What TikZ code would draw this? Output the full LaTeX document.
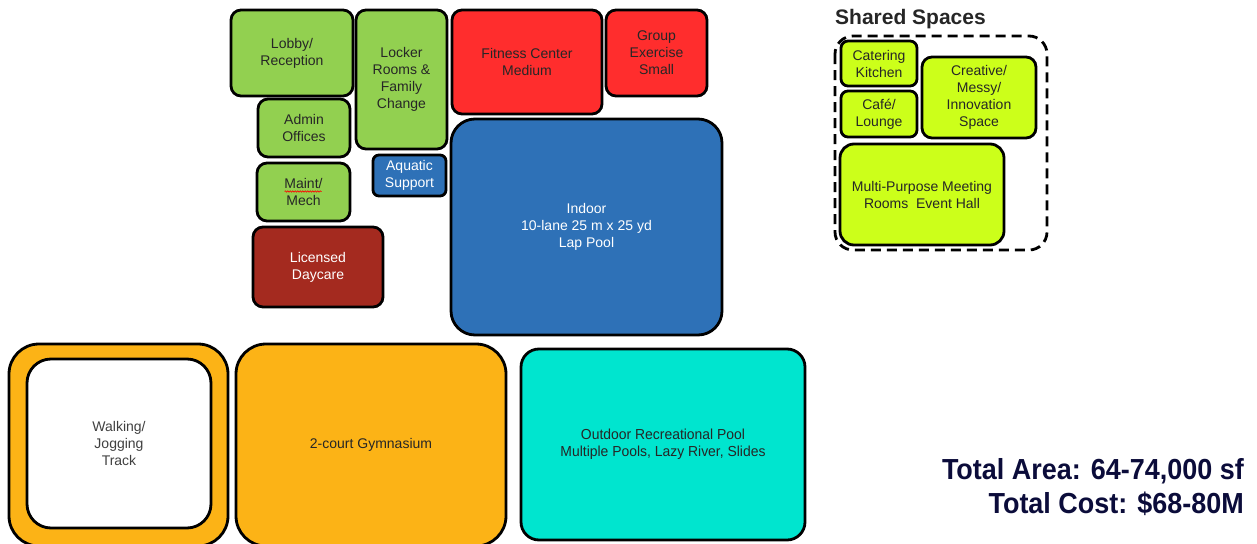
\documentclass[tikz,border=0pt]{standalone}
\usepackage{fontspec}
\setmainfont{Liberation Sans}
\newfontfamily\narrowfont[FakeStretch=0.96]{Liberation Sans}
\newfontfamily\narrowbold[FakeStretch=0.93]{Liberation Sans Bold}
\usetikzlibrary{decorations.pathmorphing}
\definecolor{rgreen}{HTML}{92D050}
\definecolor{rred}{HTML}{FF2D2D}
\definecolor{rblue}{HTML}{2E71B7}
\definecolor{rbrown}{HTML}{A42A1F}
\definecolor{rorange}{HTML}{FCB316}
\definecolor{rteal}{HTML}{00E5CF}
\definecolor{rlime}{HTML}{CCFF1A}
\definecolor{dtext}{HTML}{262626}
\definecolor{navy}{HTML}{0B0C3A}
\tikzset{
  room/.style={draw=black, line width=2.8pt, rounded corners=10pt, anchor=north west,
    align=center, inner sep=0pt, outer sep=0pt, text=dtext,
    font=\fontsize{14}{17}\selectfont},
  bigroom/.style={room, rounded corners=24pt},
}
\begin{document}
\begin{tikzpicture}[x=1pt,y=-1pt]
\useasboundingbox (0,0) rectangle (1257,543);
% top-left cluster
\node[room, fill=rgreen, minimum width=122pt, minimum height=86pt] (lobby) at (231,10) {Lobby/\\Reception};
\node[room, fill=rgreen, minimum width=91pt, minimum height=139pt] (locker) at (356,10) {Locker\\Rooms \&\\Family\\Change};
\node[room, fill=rred, minimum width=150pt, minimum height=104pt] (fitness) at (452,10) {Fitness Center\\Medium};
\node[room, fill=rred, minimum width=101pt, minimum height=86pt] (group) at (606,10) {Group\\Exercise\\Small};
\node[room, fill=rgreen, minimum width=92pt, minimum height=58pt] (admin) at (258,99) {Admin\\Offices};
\node[room, fill=rgreen, minimum width=93pt, minimum height=58pt] (maint) at (257,163) {Maint/\\Mech};
\node[room, fill=rblue, text=white, rounded corners=6pt, minimum width=73pt, minimum height=41pt] (aquatic) at (373,155) {Aquatic\\Support};
\node[room, fill=rbrown, text=white, minimum width=130pt, minimum height=80pt] (daycare) at (253,227) {Licensed\\Daycare};
\node[bigroom, fill=rblue, text=white, minimum width=271pt, minimum height=216pt] (indoor) at (451,119) {Indoor\\10-lane 25 m x 25 yd\\Lap Pool};
\draw[red, line width=0.6pt, decorate, decoration={snake, amplitude=0.7pt, segment length=2.5pt}]
  ([xshift=-19pt,yshift=0.5pt]maint.center) -- ([xshift=18pt,yshift=0.5pt]maint.center);
% bottom row
\node[bigroom, fill=rorange, rounded corners=30pt, minimum width=219pt, minimum height=202pt] (trackouter) at (9,344) {};
\node[bigroom, fill=white, text={rgb,255:red,64;green,64;blue,64}, rounded corners=24pt, minimum width=184pt, minimum height=169pt] (track) at (27,359) {Walking/\\Jogging\\Track};
\node[bigroom, fill=rorange, rounded corners=30pt, minimum width=270pt, minimum height=202pt] (gym) at (236,344) {2-court Gymnasium};
\node[bigroom, fill=rteal, rounded corners=18pt, minimum width=284pt, minimum height=191pt, font=\narrowfont\fontsize{14.5}{17}\selectfont] (outdoor) at (521,349) {\raisebox{-1.5pt}{\begin{tabular}{@{}c@{}}Outdoor Recreational Pool\\[-0.5pt]Multiple Pools, Lazy River, Slides\end{tabular}}};
% shared spaces
\node[anchor=base west, inner sep=0pt, text=dtext, font=\bfseries\fontsize{21}{24}\selectfont] (sharedtitle) at (835,25) {Shared Spaces};
\draw[black, line width=2.8pt, dash pattern=on 10pt off 6pt, rounded corners=18pt] (835,36) rectangle (1047,250);
\node[room, fill=rlime, rounded corners=7pt, minimum width=76pt, minimum height=45pt] (catering) at (841,41) {Catering\\Kitchen};
\node[room, fill=rlime, rounded corners=7pt, minimum width=76pt, minimum height=46pt] (cafe) at (841,91) {Café/\\Lounge};
\node[room, fill=rlime, minimum width=114pt, minimum height=81pt] (creative) at (922,57) {Creative/\\Messy/\\Innovation\\Space};
\node[room, fill=rlime, rounded corners=14pt, minimum width=164pt, minimum height=101pt] (multi) at (840,144) {Multi-Purpose Meeting\\Rooms\ \ Event Hall};
% totals
\node[anchor=base east, inner sep=0pt, text=navy, font=\narrowbold\fontsize{29}{34}\selectfont] (area) at (1244,479) {Total Area: 64-74,000 sf};
\node[anchor=base east, inner sep=0pt, text=navy, font=\narrowbold\fontsize{29}{34}\selectfont] (cost) at (1244,513) {Total Cost: \$68-80M};
\end{tikzpicture}
\end{document}
